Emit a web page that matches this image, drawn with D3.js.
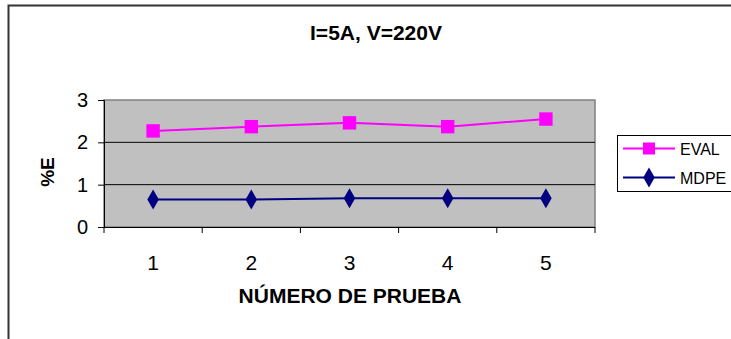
<!DOCTYPE html>
<html><head><meta charset="utf-8">
<script src="https://cdn.jsdelivr.net/npm/d3@7"></script>
<style>body{margin:0;background:#fff}svg{display:block}text{font-family:"Liberation Sans",Arial,sans-serif}</style>
</head><body><svg id="c" width="731" height="339"></svg>
<script>
const categories = ["1","2","3","4","5"];
const evalValues = [2.27, 2.37, 2.46, 2.37, 2.55];
const mdpeValues = [0.65, 0.65, 0.68, 0.68, 0.68];
const yTicks = [0,1,2,3];
const seriesNames = ["EVAL","MDPE"];
const seriesColors = ["#FF00FF","#000080"];

const svg = d3.select("#c");
// outer frame
svg.append("path").attr("d","M8.5,340 V5.5 H731").attr("fill","none").attr("stroke","#333").attr("stroke-width",2);

const L=104, R=595, T=100, B=227;
const x = d3.scaleBand().domain(categories).range([L,R]);
const y = d3.scaleLinear().domain([0,3]).range([B,T]);

svg.append("rect").attr("x",L).attr("y",T).attr("width",R-L).attr("height",B-T)
  .attr("fill","#C0C0C0").attr("stroke","#808080").attr("stroke-width",1.5);

svg.append("g").selectAll("line").data(yTicks.filter(d=>d>0&&d<3)).join("line")
  .attr("x1",L).attr("x2",R).attr("y1",d=>y(d)).attr("y2",d=>y(d)).attr("stroke","#000").attr("stroke-width",1);

const yAxis = svg.append("g").attr("transform",`translate(${L},0)`)
  .call(d3.axisLeft(y).tickValues(yTicks).tickFormat(d3.format("d")).tickSize(6).tickPadding(10));
yAxis.select(".domain").attr("stroke","#000");
yAxis.selectAll("text").attr("font-size",20).attr("fill","#000");

const xAxis = svg.append("g").attr("transform",`translate(0,${B})`)
  .call(d3.axisBottom(x).tickSize(0).tickPadding(28));
xAxis.select(".domain").attr("stroke","#000").attr("d",`M${L},0.5H${R}`);
xAxis.selectAll("text").attr("font-size",21).attr("fill","#000");
// boundary ticks
const bounds = categories.map(c=>x(c)).concat([R]);
svg.append("g").selectAll("line").data(bounds).join("line")
  .attr("x1",d=>d).attr("x2",d=>d).attr("y1",B).attr("y2",B+6).attr("stroke","#000");

const line = d3.line().x((d,i)=>x(categories[i])+x.bandwidth()/2).y(d=>y(d));
const series = [evalValues, mdpeValues];
series.forEach((vals,si)=>{
  svg.append("path").datum(vals).attr("d",line).attr("fill","none")
    .attr("stroke",seriesColors[si]).attr("stroke-width",2);
});
const sq = d3.symbol().type(d3.symbolSquare).size(180);
const dm = d3.symbol().type(d3.symbolDiamond).size(115);
const sqL = d3.symbol().type(d3.symbolSquare).size(144);
svg.append("g").selectAll("path").data(evalValues).join("path")
  .attr("d",sq).attr("fill",seriesColors[0])
  .attr("transform",(d,i)=>`translate(${x(categories[i])+x.bandwidth()/2},${y(d)})`);
svg.append("g").selectAll("path").data(mdpeValues).join("path")
  .attr("d",dm).attr("fill",seriesColors[1])
  .attr("transform",(d,i)=>`translate(${x(categories[i])+x.bandwidth()/2},${y(d)})`);

// titles
svg.append("text").attr("x",376).attr("y",40).attr("text-anchor","middle")
  .attr("font-size",21).attr("font-weight","bold").text("I=5A, V=220V");
svg.append("text").attr("x",350).attr("y",303).attr("text-anchor","middle")
  .attr("font-size",21).attr("font-weight","bold").text("NÚMERO DE PRUEBA");
svg.append("text").attr("transform","translate(54,172) rotate(-90)").attr("text-anchor","middle")
  .attr("font-size",19).attr("font-weight","bold").text("%E");

// legend
const lg = svg.append("g");
lg.append("rect").attr("x",617.5).attr("y",135.5).attr("width",120).attr("height",56)
  .attr("fill","#fff").attr("stroke","#000");
seriesNames.forEach((n,i)=>{
  const yy = 148.5 + i*29;
  lg.append("line").attr("x1",623).attr("x2",675).attr("y1",yy).attr("y2",yy)
    .attr("stroke",seriesColors[i]).attr("stroke-width",2);
  lg.append("path").attr("d", i===0?sqL:dm).attr("fill",seriesColors[i])
    .attr("transform",`translate(649,${yy})`);
  lg.append("text").attr("x",680).attr("y",yy+6).attr("font-size",16).text(n);
});
</script></body></html>
